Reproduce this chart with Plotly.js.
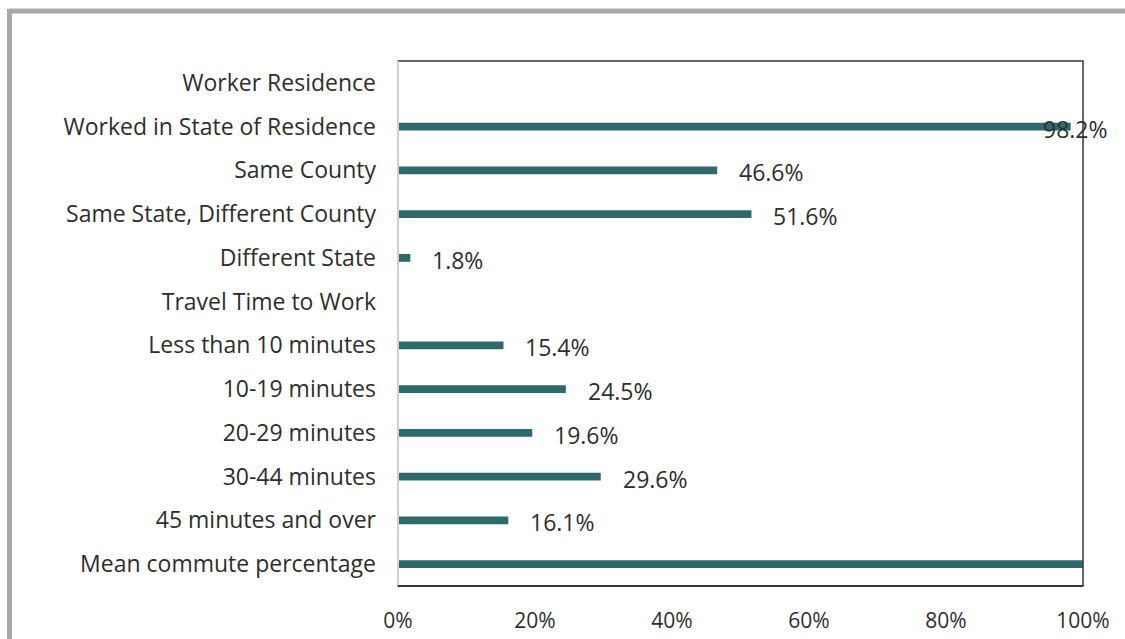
<!DOCTYPE html>
<html>
<head>
<meta charset="utf-8">
<script src="https://cdn.plot.ly/plotly-3.0.1.min.js"></script>
<style>html,body{margin:0;padding:0;background:#fff;}#chart{width:1125px;height:639px;}</style>
</head>
<body>
<div id="chart"></div>
<script>
const categories = [
  "Worker Residence",
  "Worked in State of Residence",
  "Same County",
  "Same State, Different County",
  "Different State",
  "Travel Time to Work",
  "Less than 10 minutes",
  "10-19 minutes",
  "20-29 minutes",
  "30-44 minutes",
  "45 minutes and over",
  "Mean commute percentage"
];
const values = [null, 98.2, 46.6, 51.6, 1.8, null, 15.4, 24.5, 19.6, 29.6, 16.1, 100];
const valueLabels = ["", "98.2%", "46.6%", "51.6%", "1.8%", "", "15.4%", "24.5%", "19.6%", "29.6%", "16.1%", ""];
const tickVals = [0, 20, 40, 60, 80, 100];
const tickText = ["0%", "20%", "40%", "60%", "80%", "100%"];

const barColor = "#2e6a6b";
const textColor = "#2e2e2e";
const fontFam = "'Open Sans', 'Noto Sans', sans-serif";

const annotations = [];
categories.forEach((c, i) => {
  if (values[i] === null || !valueLabels[i]) return;
  const near = values[i] > 90;
  annotations.push({
    x: values[i], y: c, xref: "x", yref: "y",
    text: valueLabels[i], showarrow: false,
    xanchor: "left", yanchor: "middle",
    xshift: near ? -30 : 20, yshift: -2,
    font: {family: fontFam, size: 23, color: textColor}
  });
});

const trace = {
  type: "bar", orientation: "h",
  x: values, y: categories,
  marker: {color: barColor},
  width: 0.18,
  hoverinfo: "skip"
};

const layout = {
  width: 1125, height: 639,
  margin: {l: 398, r: 42, t: 61, b: 53, pad: 0},
  paper_bgcolor: "#ffffff", plot_bgcolor: "#ffffff",
  showlegend: false,
  xaxis: {
    range: [0, 100], tickvals: tickVals, ticktext: tickText,
    showgrid: false, zeroline: false, showline: false,
    ticks: "", ticklen: 0, ticklabelstandoff: 20,
    tickfont: {family: fontFam, size: 21, color: textColor},
    fixedrange: true
  },
  yaxis: {
    type: "category", categoryorder: "array", categoryarray: categories,
    autorange: "reversed",
    showgrid: false, zeroline: false, showline: false,
    ticks: "", ticklen: 0, ticklabelstandoff: 21,
    tickfont: {family: fontFam, size: 23, color: textColor},
    fixedrange: true
  },
  annotations: annotations,
  shapes: [
    {type: "rect", xref: "paper", yref: "paper", x0: 0, x1: 1, y0: 0, y1: 1,
     line: {color: "#3a3335", width: 1.5}, fillcolor: "rgba(0,0,0,0)", layer: "above"},
    {type: "line", xref: "paper", yref: "paper", x0: 0, x1: 0, y0: 0, y1: 1,
     line: {color: "#d0d0d0", width: 2}, layer: "above"},
    {type: "line", xref: "paper", yref: "paper", x0: 0, x1: 1, y0: 0, y1: 0,
     line: {color: "#3a3335", width: 2}, layer: "above"},
    {type: "line", xref: "paper", yref: "paper",
     x0: -389/685, x1: 1.1, y0: 1 + 50/525, y1: 1 + 50/525,
     line: {color: "#a8a8a8", width: 5}, layer: "above"},
    {type: "line", xref: "paper", yref: "paper",
     x0: -388.5/685, x1: -388.5/685, y0: -0.2, y1: 1 + 52/525,
     line: {color: "#a8a8a8", width: 5}, layer: "above"}
  ]
};

Plotly.newPlot("chart", [trace], layout, {displayModeBar: false, staticPlot: true});
</script>
</body>
</html>
